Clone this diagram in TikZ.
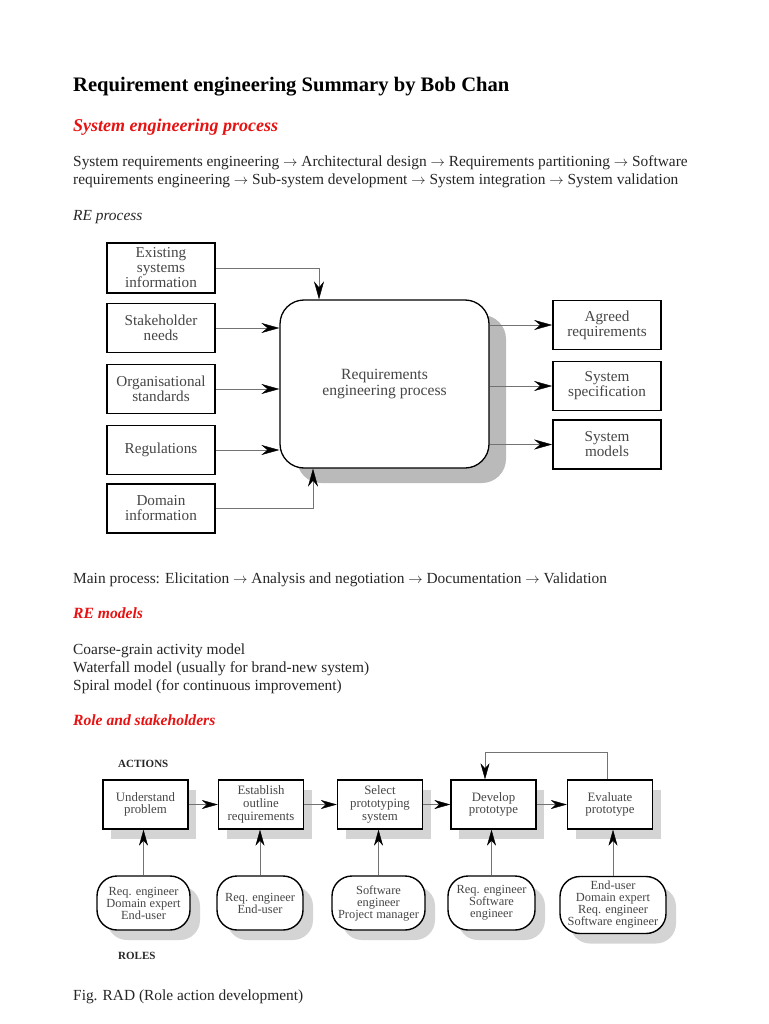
\documentclass[tikz,border=0pt]{standalone}
\usepackage{fontspec}
\setmainfont{Liberation Serif}
\usetikzlibrary{positioning,arrows.meta,shadows}
\definecolor{headred}{RGB}{232,18,18}
\definecolor{bodygray}{RGB}{38,38,38}
\definecolor{boxtext}{RGB}{70,70,70}
\newcommand\nxt{~$\rightarrow$~}
\tikzset{
  body/.style={anchor=base west, inner sep=0pt, text=bodygray, font=\fontsize{15.4}{17}\selectfont},
  heading/.style={anchor=base west, inner sep=0pt, text=headred, font=\fontsize{15.6}{17}\selectfont\bfseries\itshape},
  flow/.style={thin, black!55, -{Stealth[length=18pt,width=10pt,inset=6pt,black]}},
  radflow/.style={thin, black!55, -{Stealth[length=16pt,width=9pt,inset=5pt,black]}},
  srcbox/.style={draw, line width=1.8pt, minimum width=108pt, minimum height=49pt, align=center,
    inner sep=1pt, text=boxtext, font=\fontsize{15.2}{15}\selectfont},
  procbox/.style={draw, line width=1.3pt, fill=white, rounded corners=24pt, minimum width=209pt,
    minimum height=168pt, align=center, text=boxtext, font=\fontsize{15.6}{16}\selectfont,
    drop shadow={shadow xshift=17pt, shadow yshift=-15pt, fill=black!27, opacity=1}},
  actbox/.style={draw, line width=1.4pt, fill=white, minimum width=85pt, minimum height=49pt,
    align=center, inner sep=1pt, text=boxtext, font=\fontsize{12.8}{12.8}\selectfont,
    drop shadow={shadow xshift=8pt, shadow yshift=-10pt, fill=black!17, opacity=1}},
  rolebox/.style={draw, line width=1.4pt, fill=white, rounded corners=20pt, minimum height=54pt,
    align=center, inner sep=1pt, text=boxtext, font=\fontsize{12.4}{12}\selectfont,
    drop shadow={shadow xshift=10pt, shadow yshift=-10pt, fill=black!17, opacity=1}},
  tag/.style={anchor=base west, inner sep=0pt, text=bodygray, font=\fontsize{11}{12}\selectfont\bfseries}
}
\begin{document}
\begin{tikzpicture}[x=1pt,y=-1pt]
  \useasboundingbox[fill=white] (0,0) rectangle (768,1024);

  % page text
  \node[anchor=base west, inner sep=0pt, font=\fontsize{20.6}{22}\selectfont\bfseries] (title) at (73,92)
    {Requirement engineering Summary by Bob Chan};
  \node[heading, font=\fontsize{18}{20}\selectfont\bfseries\itshape] (sephead) at (73,132) {System engineering process};
  \node[body] (seline1) at (73,167) {System requirements engineering\nxt Architectural design\nxt Requirements partitioning\nxt Software};
  \node[body] (seline2) at (73,185) {requirements engineering\nxt Sub-system development\nxt System integration\nxt System validation};
  \node[body, font=\fontsize{15.4}{17}\selectfont\itshape] (rehead) at (73,221) {RE process};

  % RE process inputs
  \node[srcbox, minimum height=50pt] (exist) at (161,268) {Existing\\systems\\information};
  \node[srcbox] (stake) at (161,328) {Stakeholder\\needs};
  \node[srcbox] (orgstd) at (161,389) {Organisational\\standards};
  \node[srcbox] (regs) at (161,450) {Regulations};
  \node[srcbox] (domain) at (161,508.5) {Domain\\information};

  % RE process box and outputs
  \node[procbox] (reproc) at (384.5,384) {Requirements\\engineering process};
  \node[srcbox] (agreed) at (607,325) {Agreed\\requirements};
  \node[srcbox] (sysspec) at (607,386) {System\\specification};
  \node[srcbox] (sysmod) at (607,444.5) {System\\models};

  \draw[flow] (exist.east) -| ([xshift=-65.5pt]reproc.north);% from top
  \draw[flow] (stake) -- (stake -| reproc.west);
  \draw[flow] (orgstd) -- (orgstd -| reproc.west);
  \draw[flow] (regs) -- (regs -| reproc.west);
  \draw[flow] (domain.east) -| ([xshift=-71.5pt]reproc.south);% from below
  \draw[flow] (reproc.east |- agreed) -- (agreed);
  \draw[flow] (reproc.east |- sysspec) -- (sysspec);
  \draw[flow] (reproc.east |- sysmod) -- (sysmod);

  \node[body] (mainproc) at (73,583) {Main process: Elicitation\nxt Analysis and negotiation\nxt Documentation\nxt Validation};
  \node[heading] (modhead) at (73,618) {RE models};
  \node[body] (model1) at (73,654) {Coarse-grain activity model};
  \node[body] (model2) at (73,672) {Waterfall model (usually for brand-new system)};
  \node[body] (model3) at (73,690) {Spiral model (for continuous improvement)};
  \node[heading] (rolehead) at (73,725) {Role and stakeholders};

  % RAD actions
  \node[tag] (actlbl) at (118,767) {ACTIONS};
  \node[actbox] (understand) at (145.5,804.5) {Understand\\problem};
  \node[actbox] (outline) at (261,804.5) {Establish\\outline\\requirements};
  \node[actbox] (select) at (380,804.5) {Select\\prototyping\\system};
  \node[actbox] (develop) at (493.5,804.5) {Develop\\prototype};
  \node[actbox] (evaluate) at (610,804.5) {Evaluate\\prototype};

  % RAD roles
  \node[rolebox, minimum width=93pt] (role1) at (143.5,903) {Req. engineer\\Domain expert\\End-user};
  \node[rolebox, minimum width=86pt] (role2) at (260,903) {Req. engineer\\End-user};
  \node[rolebox, minimum width=93pt] (role3) at (378.5,903) {Software\\engineer\\Project manager};
  \node[rolebox, minimum width=87pt] (role4) at (491.5,903) {Req. engineer\\Software\\engineer};
  \node[rolebox, minimum width=106pt, minimum height=57pt] (role5) at (613,905) {End-user\\Domain expert\\Req. engineer\\Software engineer};
  \node[tag] (rolelbl) at (118,959) {ROLES};

  \draw[radflow] (understand) -- (outline);
  \draw[radflow] (outline) -- (select);
  \draw[radflow] (select) -- (develop);
  \draw[radflow] (develop) -- (evaluate);
  \draw[radflow] ([xshift=-3pt]evaluate.north) -- ++(0,-27) -| ([xshift=-8.5pt]develop.north);% loop back
  \foreach \r/\a in {role1/understand, role2/outline, role3/select, role4/develop, role5/evaluate}
    \draw[radflow] (\r.north) -- (\r.north |- \a.south);

  \node[body] (figcap) at (73,1000) {Fig. RAD (Role action development)};
\end{tikzpicture}
\end{document}
